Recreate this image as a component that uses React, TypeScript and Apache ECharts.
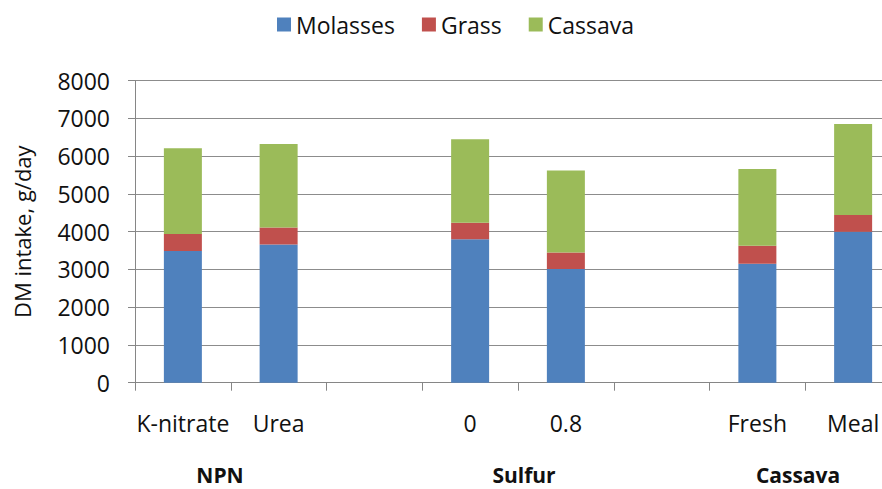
import React, { useEffect, useRef } from "react";
import * as echarts from "echarts";

const categories = ["K-nitrate", "Urea", "", "0", "0.8", "", "Fresh", "Meal"];
const molasses = [3490, 3660, null, 3800, 3010, null, 3150, 4000];
const grass = [450, 450, null, 440, 440, null, 480, 440];
const cassava = [2270, 2210, null, 2210, 2170, null, 2030, 2410];
const groupLabels = ["NPN", "Sulfur", "Cassava"];
const groupCenters = [220, 524, 798];

const FONT = "'Open Sans', 'DejaVu Sans', sans-serif";

export default function App() {
  const ref = useRef<HTMLDivElement>(null);
  useEffect(() => {
    if (!ref.current) return;
    const chart = echarts.init(ref.current, null, { renderer: "svg" });
    const mk = (name: string, data: (number | null)[], color: string) => ({
      name,
      type: "bar",
      stack: "total",
      data,
      barWidth: 38,
      itemStyle: { color },
    });
    chart.setOption({
      animation: false,
      textStyle: { fontFamily: FONT },
      legend: {
        left: 277,
        top: 13,
        padding: 0,
        itemWidth: 14,
        itemHeight: 14,
        itemGap: 27,
        icon: "rect",
        textStyle: { fontSize: 23, color: "#111", fontFamily: FONT },
        data: ["Molasses", "Grass", "Cassava"],
      },
      grid: { left: 135, right: 1, top: 80.7, height: 302 },
      xAxis: {
        type: "category",
        data: categories,
        axisLine: { lineStyle: { color: "#868686", width: 1 } },
        axisTick: { show: true, length: 8, lineStyle: { color: "#868686" } },
        axisLabel: { interval: 0, fontSize: 23, color: "#111", margin: 29, fontFamily: FONT },
        splitLine: { show: false },
      },
      yAxis: {
        type: "value",
        min: 0,
        max: 8000,
        interval: 1000,
        name: "DM intake, g/day",
        nameLocation: "middle",
        nameGap: 102,
        nameTextStyle: { fontSize: 22, color: "#111", fontFamily: FONT },
        axisLine: { show: true, lineStyle: { color: "#868686", width: 1 } },
        axisTick: { show: true, length: 7, lineStyle: { color: "#868686" } },
        axisLabel: {
          fontSize: 23,
          color: "#111",
          margin: 25,
          fontFamily: FONT,
          formatter: (v: number) => String(v),
        },
        splitLine: { show: true, lineStyle: { color: "#8c8c8c", width: 1 } },
      },
      graphic: groupLabels.map((t, i) => ({
        type: "text",
        x: groupCenters[i],
        y: 475,
        style: {
          text: t,
          fontSize: 21,
          fontWeight: "bold",
          fontFamily: FONT,
          fill: "#111",
          textAlign: "center",
          textVerticalAlign: "middle",
        },
      })),
      series: [
        mk("Molasses", molasses, "#4F81BD"),
        mk("Grass", grass, "#C0504D"),
        mk("Cassava", cassava, "#9BBB59"),
      ],
    });
    return () => chart.dispose();
  }, []);
  return (
    <div
      ref={ref}
      style={{ position: "fixed", left: 0, top: 0, width: 902, height: 489, background: "#fff" }}
    />
  );
}
